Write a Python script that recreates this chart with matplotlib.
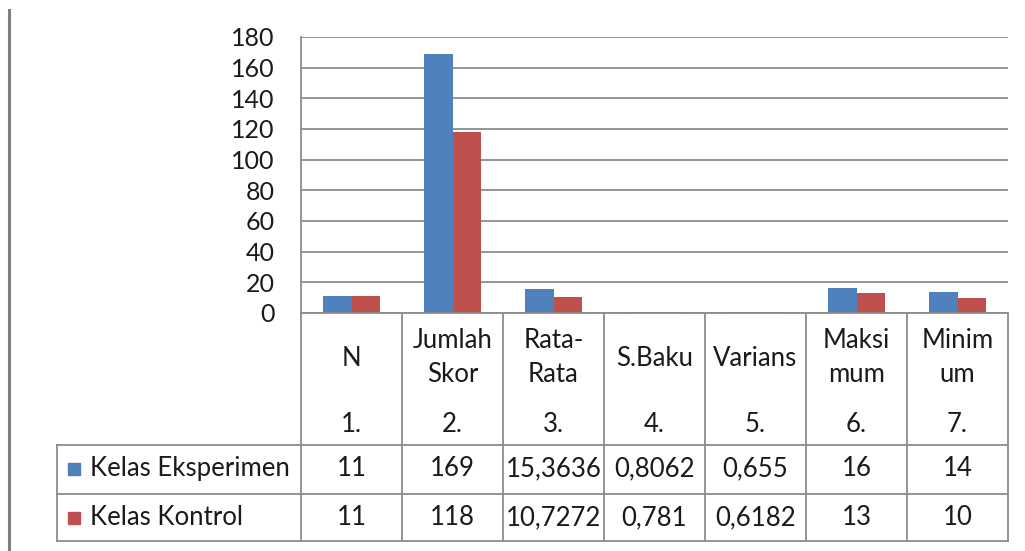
import matplotlib
matplotlib.use("Agg")
import matplotlib.pyplot as plt
import numpy as np

# Descriptive statistics for the two classes
categories = ["N", "Jumlah\nSkor", "Rata-\nRata", "S.Baku", "Varians", "Maksi\nmum", "Minim\num"]
numbers = ["1.", "2.", "3.", "4.", "5.", "6.", "7."]
series_names = ["Kelas Eksperimen", "Kelas Kontrol"]
eksperimen = [11, 169, 15.3636, 0.8062, 0.655, 16, 14]
kontrol = [11, 118, 10.7272, 0.781, 0.6182, 13, 10]
y_ticks = [0, 20, 40, 60, 80, 100, 120, 140, 160, 180]

colors = ["#4F81BD", "#C0504D"]
grid_col = "#8C8C8C"
line_col = "#8C8C8C"
text_col = "#1A1A1A"

plt.rcParams["font.family"] = ["Lato", "DejaVu Sans"]

W, H = 1025, 551
fig = plt.figure(figsize=(W / 100, H / 100), dpi=100)

# Layout in pixels
plot_left, plot_right = 301, 1008
plot_top, plot_bottom = 37, 313
head_bottom, row1_bottom, row2_bottom = 445, 494, 541
legend_left = 57

ax = fig.add_axes([plot_left / W, 1 - plot_bottom / H,
                   (plot_right - plot_left) / W, (plot_bottom - plot_top) / H])

n = len(categories)
x = np.arange(n)
bw = 1 / 3.5
ax.bar(x - bw / 2, eksperimen, width=bw, color=colors[0], zorder=3)
ax.bar(x + bw / 2, kontrol, width=bw, color=colors[1], zorder=3)

ax.set_xlim(-0.5, n - 0.5)
ax.set_ylim(0, 180)
ax.set_yticks(y_ticks)
ax.set_yticklabels([str(t) for t in y_ticks], fontsize=18, color=text_col)
ax.tick_params(axis="y", length=0, pad=19)
ax.set_xticks([])
ax.grid(axis="y", color=grid_col, linewidth=1.3, zorder=0)
for s in ["top", "right", "bottom"]:
    ax.spines[s].set_visible(False)
ax.spines["left"].set_color(line_col)
ax.spines["left"].set_linewidth(1.3)

# Data table below the plot, drawn in pixel coordinates
tab = fig.add_axes([0, 0, 1, 1], zorder=5)
tab.set_xlim(0, W)
tab.set_ylim(H, 0)
tab.axis("off")
tab.patch.set_alpha(0)

lw = 1.3
colw = (plot_right - plot_left) / n

# outer frame line on the far left
tab.plot([9, 9], [10, H], color="#7F7F7F", linewidth=2.2)

# horizontal lines
tab.plot([plot_left, plot_right], [plot_bottom, plot_bottom], color=line_col, lw=lw)
for yy in (head_bottom, row1_bottom, row2_bottom):
    tab.plot([legend_left, plot_right], [yy, yy], color=line_col, lw=lw)
# vertical lines
for i in range(n + 1):
    xx = plot_left + i * colw
    tab.plot([xx, xx], [plot_bottom, row2_bottom], color=line_col, lw=lw)
tab.plot([legend_left, legend_left], [head_bottom, row2_bottom], color=line_col, lw=lw)


def fmt(v):
    return f"{v:g}".replace(".", ",")


fs = 18.5
row_centers = [(head_bottom + row1_bottom) / 2 - 1, (row1_bottom + row2_bottom) / 2]
for i in range(n):
    cx = plot_left + (i + 0.5) * colw
    tab.text(cx, 358, categories[i], ha="center", va="center", fontsize=fs,
             color=text_col, linespacing=1.45)
    tab.text(cx, 424, numbers[i], ha="center", va="center", fontsize=fs, color=text_col)
    tab.text(cx, row_centers[0], fmt(eksperimen[i]), ha="center",
             va="center", fontsize=fs, color=text_col)
    tab.text(cx, row_centers[1], fmt(kontrol[i]), ha="center",
             va="center", fontsize=fs, color=text_col)

for name, col, yc in zip(series_names, colors, row_centers):
    tab.add_patch(plt.Rectangle((68, yc - 6), 12, 12, color=col))
    tab.text(90, yc, name, ha="left", va="center", fontsize=fs, color=text_col)

fig.savefig("out.png", dpi=100, facecolor="white")
